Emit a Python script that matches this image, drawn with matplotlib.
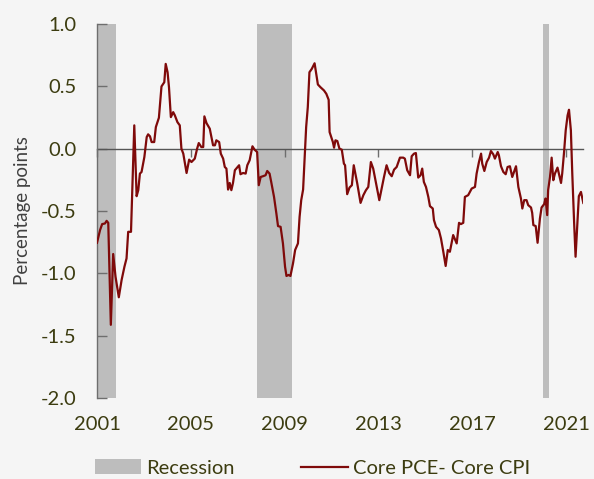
import matplotlib
matplotlib.use("Agg")
import matplotlib.pyplot as plt
from matplotlib.patches import Patch
from matplotlib.lines import Line2D

# ---- data ----
dates = [
    2001.00, 2001.13, 2001.22, 2001.34, 2001.41, 2001.48, 2001.59, 2001.69, 2001.79, 2001.93,
    2002.05, 2002.17, 2002.26, 2002.33, 2002.45, 2002.59, 2002.69, 2002.76, 2002.83, 2002.90,
    2003.02, 2003.12, 2003.18, 2003.26, 2003.33, 2003.44, 2003.51, 2003.64, 2003.75, 2003.87,
    2003.93, 2004.01, 2004.07, 2004.15, 2004.25, 2004.32, 2004.43, 2004.53, 2004.60, 2004.68,
    2004.82, 2004.93, 2005.03, 2005.17, 2005.27, 2005.34, 2005.45, 2005.53, 2005.58, 2005.67,
    2005.81, 2005.95, 2006.03, 2006.09, 2006.21, 2006.28, 2006.38, 2006.45, 2006.52, 2006.59,
    2006.66, 2006.73, 2006.80, 2006.88, 2006.94, 2007.06, 2007.12, 2007.23, 2007.34, 2007.41,
    2007.51, 2007.63, 2007.72, 2007.83, 2007.90, 2007.98, 2008.08, 2008.19, 2008.26, 2008.36,
    2008.43, 2008.55, 2008.65, 2008.72, 2008.83, 2008.93, 2009.02, 2009.08, 2009.17, 2009.25,
    2009.36, 2009.45, 2009.57, 2009.64, 2009.71, 2009.79, 2009.85, 2009.92, 2009.99, 2010.06,
    2010.16, 2010.28, 2010.35, 2010.42, 2010.53, 2010.68, 2010.78, 2010.88, 2010.92, 2010.99,
    2011.06, 2011.11, 2011.17, 2011.25, 2011.34, 2011.44, 2011.53, 2011.58, 2011.67, 2011.77,
    2011.87, 2011.95, 2012.10, 2012.24, 2012.36, 2012.47, 2012.57, 2012.68, 2012.78, 2012.93,
    2013.04, 2013.14, 2013.24, 2013.35, 2013.46, 2013.57, 2013.67, 2013.78, 2013.92, 2014.06,
    2014.13, 2014.23, 2014.35, 2014.42, 2014.52, 2014.60, 2014.70, 2014.80, 2014.87, 2014.94,
    2015.03, 2015.13, 2015.20, 2015.32, 2015.37, 2015.46, 2015.58, 2015.67, 2015.77, 2015.87,
    2015.96, 2016.05, 2016.19, 2016.34, 2016.44, 2016.52, 2016.62, 2016.69, 2016.83, 2016.98,
    2017.12, 2017.19, 2017.29, 2017.38, 2017.43, 2017.52, 2017.62, 2017.72, 2017.80, 2017.90,
    2017.97, 2018.09, 2018.14, 2018.23, 2018.33, 2018.43, 2018.51, 2018.61, 2018.71, 2018.80,
    2018.87, 2018.97, 2019.08, 2019.14, 2019.22, 2019.32, 2019.39, 2019.51, 2019.56, 2019.61,
    2019.71, 2019.79, 2019.89, 2019.96, 2020.07, 2020.13, 2020.20, 2020.24, 2020.32, 2020.39,
    2020.46, 2020.53, 2020.64, 2020.70, 2020.79, 2020.84, 2020.92, 2020.99, 2021.07, 2021.13,
    2021.21, 2021.27, 2021.35, 2021.41, 2021.50, 2021.55, 2021.64, 2021.74,
]
pce_minus_cpi = [
    -0.755, -0.653, -0.605, -0.600, -0.579, -0.595, -1.413, -0.845, -1.027, -1.192,
    -1.053, -0.947, -0.880, -0.667, -0.667, 0.187, -0.381, -0.333, -0.200, -0.187,
    -0.067, 0.093, 0.115, 0.099, 0.053, 0.053, 0.173, 0.248, 0.499, 0.533,
    0.680, 0.613, 0.493, 0.253, 0.293, 0.267, 0.213, 0.187, 0.000, -0.040,
    -0.195, -0.088, -0.107, -0.080, 0.000, 0.045, 0.013, 0.013, 0.259, 0.205,
    0.160, 0.027, 0.027, 0.067, 0.053, -0.040, -0.080, -0.147, -0.160, -0.328,
    -0.275, -0.333, -0.275, -0.173, -0.160, -0.133, -0.205, -0.195, -0.200, -0.133,
    -0.093, 0.019, -0.008, -0.027, -0.293, -0.227, -0.221, -0.213, -0.179, -0.200,
    -0.267, -0.387, -0.520, -0.621, -0.627, -0.760, -0.947, -1.021, -1.013, -1.021,
    -0.920, -0.813, -0.760, -0.547, -0.413, -0.328, -0.093, 0.173, 0.333, 0.613,
    0.640, 0.685, 0.600, 0.515, 0.493, 0.467, 0.440, 0.392, 0.133, 0.093,
    0.053, 0.008, 0.067, 0.061, 0.000, -0.008, -0.120, -0.133, -0.365, -0.312,
    -0.293, -0.133, -0.280, -0.435, -0.373, -0.333, -0.307, -0.107, -0.160, -0.307,
    -0.413, -0.320, -0.227, -0.133, -0.195, -0.221, -0.168, -0.147, -0.072, -0.072,
    -0.080, -0.173, -0.213, -0.061, -0.040, -0.035, -0.232, -0.213, -0.160, -0.267,
    -0.307, -0.387, -0.461, -0.480, -0.573, -0.627, -0.653, -0.720, -0.827, -0.941,
    -0.813, -0.827, -0.693, -0.760, -0.595, -0.605, -0.595, -0.387, -0.373, -0.320,
    -0.307, -0.200, -0.107, -0.040, -0.120, -0.179, -0.107, -0.072, -0.019, -0.045,
    -0.080, -0.027, -0.053, -0.141, -0.187, -0.205, -0.147, -0.141, -0.227, -0.179,
    -0.141, -0.307, -0.400, -0.480, -0.413, -0.413, -0.453, -0.472, -0.515, -0.613,
    -0.621, -0.755, -0.560, -0.472, -0.445, -0.400, -0.533, -0.333, -0.227, -0.072,
    -0.253, -0.200, -0.152, -0.200, -0.275, -0.200, -0.027, 0.147, 0.267, 0.312,
    0.147, -0.200, -0.600, -0.867, -0.547, -0.381, -0.347, -0.435,
]
recession_start = [2001.00, 2007.83, 2020.01]
recession_end = [2001.81, 2009.33, 2020.26]

x_ticks = [2001, 2005, 2009, 2013, 2017, 2021]
x_tick_labels = ["2001", "2005", "2009", "2013", "2017", "2021"]
y_ticks = [-2.0, -1.5, -1.0, -0.5, 0.0, 0.5, 1.0]
y_tick_labels = ["-2.0", "-1.5", "-1.0", "-0.5", "0.0", "0.5", "1.0"]

series_label = "Core PCE- Core CPI"
recession_label = "Recession"
y_label = "Percentage points"

# ---- style ----
BG = "#f5f5f5"
LINE = "#7f0a0a"
REC = "#bdbdbd"
TXT = "#3c3c10"
AXC = "#6e6e6e"
FS = 14.5

plt.rcParams["font.family"] = ["Lato", "DejaVu Sans"]

fig = plt.figure(figsize=(5.94, 4.79), dpi=100, facecolor=BG)
ax = fig.add_axes([97 / 594, 1 - 398 / 479, (583.3 - 97) / 594, (398 - 24) / 479])
ax.set_facecolor(BG)

for s, e in zip(recession_start, recession_end):
    ax.axvspan(s, e, color=REC, lw=0, zorder=1)

ax.plot(dates, pce_minus_cpi, color=LINE, lw=1.6, zorder=3)

ax.set_xlim(2001.0, 2021.74)
ax.set_ylim(-2.0, 1.0)

# spines
for sp in ["top", "right"]:
    ax.spines[sp].set_visible(False)
ax.spines["left"].set_color(AXC)
ax.spines["left"].set_linewidth(1.0)
ax.spines["bottom"].set_position(("data", 0))
ax.spines["bottom"].set_color("#555555")
ax.spines["bottom"].set_linewidth(1.0)
ax.spines["bottom"].set_zorder(2)

ax.set_yticks(y_ticks)
ax.set_yticklabels(y_tick_labels)
ax.tick_params(axis="y", direction="in", length=7, width=1, color=AXC,
               labelsize=FS, labelcolor=TXT, pad=15)

ax.set_xticks(x_ticks)
ax.tick_params(axis="x", direction="out", length=6, width=1, color=AXC,
               labelbottom=False)

sec = ax.secondary_xaxis(0.0)
sec.set_xticks(x_ticks)
sec.set_xticklabels(x_tick_labels)
sec.spines["bottom"].set_visible(False)
sec.tick_params(axis="x", length=0, labelsize=FS, labelcolor=TXT, pad=13)

ax.set_ylabel(y_label, fontsize=FS - 1, color="#404040")
ax.yaxis.set_label_coords(-0.135, 0.5)

handles = [Patch(facecolor=REC, edgecolor="none"),
           Line2D([0], [0], color=LINE, lw=1.6)]
leg = fig.legend(handles, [recession_label, series_label], ncol=2,
                 loc="center left", bbox_to_anchor=(95 / 594, 1 - 468 / 479),
                 bbox_transform=fig.transFigure, frameon=False,
                 fontsize=FS, handlelength=2.3, handletextpad=0.25,
                 columnspacing=3.3, borderpad=0, borderaxespad=0)
for t in leg.get_texts():
    t.set_color(TXT)

fig.savefig("out.png", dpi=100, facecolor=BG)
